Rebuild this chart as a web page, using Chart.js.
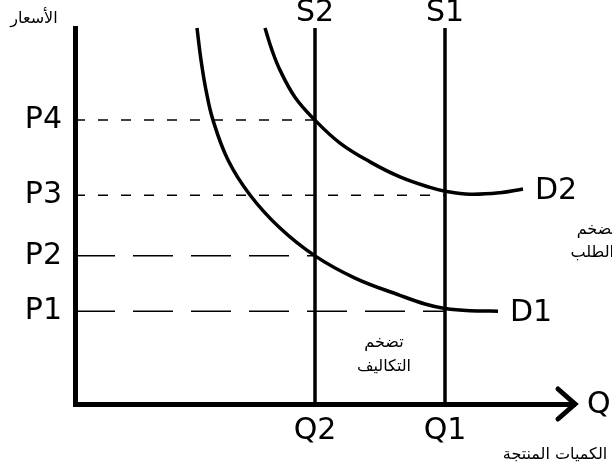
<!DOCTYPE html>
<html>
<head>
<meta charset="utf-8">
<script src="https://cdn.jsdelivr.net/npm/chart.js@4"></script>
<style>
  body { margin: 0; background: #fff; }
</style>
</head>
<body>
<canvas id="chart" width="612" height="474"></canvas>
<script>
// price levels on the vertical axis
const priceLabels = ['P1', 'P2', 'P3', 'P4'];
const priceValues = [24.7, 39.4, 55.5, 75.5];
// where each price guide line stops (quantity)
const priceGuideEnds = [74, 48, 74, 48];

// quantities on the horizontal axis
const qtyLabels = ['Q2', 'Q1'];
const qtyValues = [48, 74];

// supply curves (vertical)
const supplyLabels = ['S2', 'S1'];

// demand curves
const d1X = [24.4, 25.2, 26.2, 27.6, 30.6, 35, 41, 48, 56, 65, 70, 74, 79, 84.6];
const d1Y = [100, 91.5, 83.5, 75.5, 64.9, 55.6, 46.8, 39.4, 33.5, 28.9, 26.6, 25.4, 24.8, 24.7];
const d2X = [38, 39.4, 41, 44, 48, 53, 59, 65, 71, 74, 79, 85, 89.6];
const d2Y = [100, 94.1, 88.8, 81.6, 75.5, 69.4, 64.4, 60.4, 57.6, 56.6, 55.8, 56.2, 57.2];

const FONT = 'DejaVu Sans';

function pts(xs, ys) {
    return xs.map((x, i) => ({x: x, y: ys[i]}));
}

const datasets = [];

// dashed price guides
priceValues.forEach((p, i) => {
    datasets.push({
        data: [{x: 0, y: p}, {x: priceGuideEnds[i], y: p}],
        borderColor: '#000',
        borderWidth: 1.5,
        borderDash: i < 2 ? [40, 18] : [10, 13],
        pointRadius: 0,
        showLine: true,
        clip: false
    });
});

// supply lines
qtyValues.forEach(q => {
    datasets.push({
        data: [{x: q, y: 0}, {x: q, y: 100}],
        borderColor: '#000',
        borderWidth: 3.5,
        pointRadius: 0,
        showLine: true,
        clip: false
    });
});

// demand curves
[[d1X, d1Y, 'D1'], [d2X, d2Y, 'D2']].forEach(c => {
    datasets.push({
        label: c[2],
        data: pts(c[0], c[1]),
        borderColor: '#000',
        borderWidth: 3.5,
        pointRadius: 0,
        showLine: true,
        tension: 0.4,
        clip: false
    });
});

const extras = {
    id: 'extras',
    afterDraw(chart) {
        const ctx = chart.ctx;
        const xs = chart.scales.x, ys = chart.scales.y;
        const tipX = xs.getPixelForValue(100);
        const axY = ys.getPixelForValue(0);
        ctx.save();
        // arrow head on quantity axis
        ctx.strokeStyle = '#000';
        ctx.lineWidth = 5;
        ctx.lineCap = 'round';
        ctx.lineJoin = 'miter';
        ctx.beginPath();
        ctx.moveTo(tipX - 17, axY - 15);
        ctx.lineTo(tipX, axY);
        ctx.lineTo(tipX - 17, axY + 15);
        ctx.stroke();

        ctx.fillStyle = '#000';
        ctx.font = '30px "' + FONT + '"';
        ctx.textBaseline = 'middle';
        ctx.textAlign = 'left';
        ctx.fillText('Q', tipX + 12, axY + 1);

        // curve names at the end of each demand curve
        chart.data.datasets.forEach(ds => {
            if (!ds.label) return;
            const last = ds.data[ds.data.length - 1];
            ctx.fillText(ds.label, xs.getPixelForValue(last.x) + 12, ys.getPixelForValue(last.y) + 2);
        });

        // arabic notes
        ctx.font = '16px "' + FONT + '"';
        ctx.direction = 'rtl';
        ctx.textAlign = 'center';
        ctx.fillText('الأسعار', 34, 19);
        ctx.fillText('تضخم', 384, 343);
        ctx.fillText('التكاليف', 384, 367);
        ctx.fillText('الكميات المنتجة', 555, 455);
        ctx.textAlign = 'right';
        ctx.fillText('تضخم', 616, 230);
        ctx.fillText('الطلب', 614, 253);
        ctx.restore();
    }
};

const tickFont = {family: FONT, size: 30, lineHeight: 1};

new Chart(document.getElementById('chart'), {
    type: 'scatter',
    data: {datasets: datasets},
    options: {
        responsive: false,
        animation: false,
        layout: {padding: {left: 0, right: 37, top: 0, bottom: 0}},
        plugins: {legend: {display: false}, tooltip: {enabled: false}},
        scales: {
            x: {
                type: 'linear', position: 'bottom', min: 0, max: 100,
                grid: {display: false, drawTicks: false},
                border: {display: true, width: 5, color: '#000'},
                afterBuildTicks: s => { s.ticks = qtyValues.map(v => ({value: v})); },
                afterFit: s => { s.height = 70; },
                ticks: {autoSkip: false, maxRotation: 0, padding: 12, color: '#000', font: tickFont,
                    callback: (v, i) => qtyLabels[i]}
            },
            x2: {
                type: 'linear', position: 'top', min: 0, max: 100,
                grid: {display: false, drawTicks: false},
                border: {display: false},
                afterBuildTicks: s => { s.ticks = qtyValues.map(v => ({value: v})); },
                afterFit: s => { s.height = 28; },
                ticks: {autoSkip: false, maxRotation: 0, padding: 0, color: '#000', font: tickFont,
                    callback: (v, i) => supplyLabels[i]}
            },
            y: {
                type: 'linear', position: 'left', min: 0, max: 100,
                grid: {display: false, drawTicks: false},
                border: {display: true, width: 5, color: '#000'},
                afterBuildTicks: s => { s.ticks = priceValues.map(v => ({value: v})); },
                afterFit: s => { s.width = 75; },
                ticks: {autoSkip: false, padding: 13, color: '#000', font: tickFont,
                    callback: (v, i) => priceLabels[i]}
            }
        }
    },
    plugins: [extras]
});
</script>
</body>
</html>
